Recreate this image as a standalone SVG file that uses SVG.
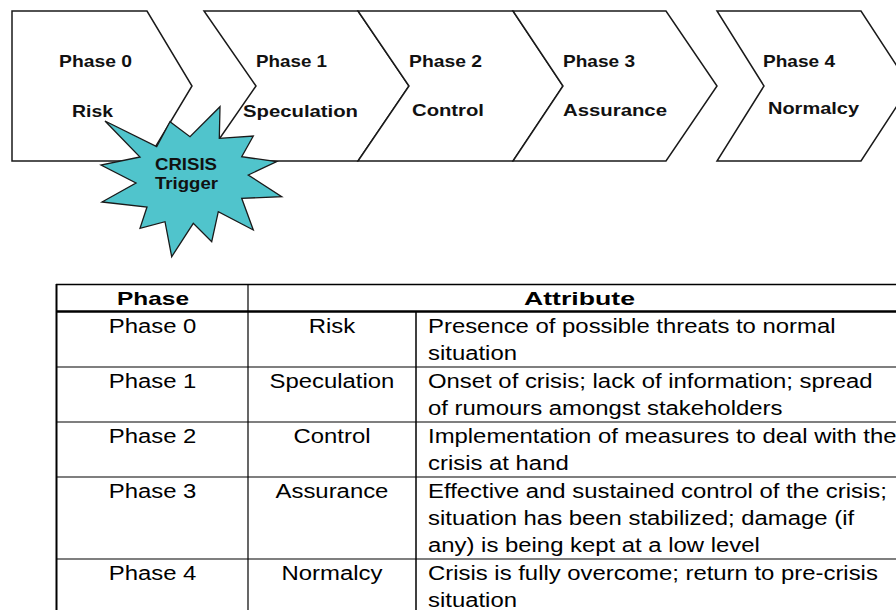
<svg xmlns="http://www.w3.org/2000/svg" width="896" height="610" viewBox="0 0 896 610">
<style>
.chev{fill:#ffffff;stroke:#1a1a1a;stroke-width:1.5;stroke-linejoin:miter}
.lbl{font-family:"Liberation Sans",Arial,sans-serif;font-weight:bold;font-size:16.5px;fill:#111}
.star{fill:#50c4cc;stroke:#1a1a1a;stroke-width:1.3;stroke-linejoin:miter}
.hdr{font-family:"Liberation Sans",Arial,sans-serif;font-weight:bold;font-size:19px;fill:#000}
.td{font-family:"Liberation Sans",Arial,sans-serif;font-size:19.5px;fill:#000}
.c{text-anchor:middle}
.grid{stroke:#000;fill:none}
</style>
<rect width="896" height="610" fill="#ffffff"/>
<g id="phase0">
<path class="chev" d="M12,11 H147 L192,86 L147,161 H12 Z"/>
<text class="lbl" x="59" y="67" textLength="73" lengthAdjust="spacingAndGlyphs">Phase 0</text>
<text class="lbl" x="72" y="117" textLength="41" lengthAdjust="spacingAndGlyphs">Risk</text>
</g>
<g id="phase1">
<path class="chev" d="M204,11 H358 L409,86 L358,161 H204 L256,86 Z"/>
<text class="lbl" x="256" y="67" textLength="71" lengthAdjust="spacingAndGlyphs">Phase 1</text>
<text class="lbl" x="243" y="117" textLength="115" lengthAdjust="spacingAndGlyphs">Speculation</text>
</g>
<g id="phase2">
<path class="chev" d="M358,11 H513 L563,86 L513,161 H358 L409,86 Z"/>
<text class="lbl" x="409" y="67" textLength="73" lengthAdjust="spacingAndGlyphs">Phase 2</text>
<text class="lbl" x="412" y="116" textLength="72" lengthAdjust="spacingAndGlyphs">Control</text>
</g>
<g id="phase3">
<path class="chev" d="M513,11 H666 L717,86 L666,161 H513 L563,86 Z"/>
<text class="lbl" x="563" y="67" textLength="72" lengthAdjust="spacingAndGlyphs">Phase 3</text>
<text class="lbl" x="563" y="116" textLength="104" lengthAdjust="spacingAndGlyphs">Assurance</text>
</g>
<g id="phase4">
<path class="chev" d="M717,11 H861 L910,86 L861,161 H717 L764,86 Z"/>
<text class="lbl" x="763" y="67" textLength="72" lengthAdjust="spacingAndGlyphs">Phase 4</text>
<text class="lbl" x="768" y="114" textLength="91" lengthAdjust="spacingAndGlyphs">Normalcy</text>
</g>
<g id="crisis-trigger">
<path class="star" d="M105,121 L156.7,146.7 L170,121.7 L190,136.7 L220,106.7 L219.3,138.3 L253.3,136 L241.7,156.7 L276.7,161.7 L248.3,175 L281.7,196.7 L241.7,198.3 L253.3,230 L218.3,211.7 L211.7,241.7 L193.3,223.3 L171.7,256.7 L165,221.7 L140,228.3 L147,207 L102,202 L136,183 L101,165 L140,157 Z"/>
<text class="lbl" x="155" y="170" textLength="62" lengthAdjust="spacingAndGlyphs">CRISIS</text>
<text class="lbl" x="155" y="189" textLength="63" lengthAdjust="spacingAndGlyphs">Trigger</text>
</g>
<g id="connectors"></g>
<g id="table">
<line class="grid" x1="56" y1="284.5" x2="912" y2="284.5" stroke-width="1.5"/>
<line class="grid" x1="56" y1="311.5" x2="912" y2="311.5" stroke-width="2.5"/>
<line class="grid" x1="56" y1="367" x2="912" y2="367" stroke-width="1.2"/>
<line class="grid" x1="56" y1="422" x2="912" y2="422" stroke-width="1.2"/>
<line class="grid" x1="56" y1="477" x2="912" y2="477" stroke-width="1.2"/>
<line class="grid" x1="56" y1="559" x2="912" y2="559" stroke-width="1.2"/>
<line class="grid" x1="56.5" y1="284" x2="56.5" y2="610" stroke-width="2"/>
<line class="grid" x1="248" y1="284" x2="248" y2="610" stroke-width="1.2"/>
<line class="grid" x1="416" y1="311" x2="416" y2="610" stroke-width="1.5"/>
<text class="hdr" x="117" y="305" textLength="72" lengthAdjust="spacingAndGlyphs">Phase</text>
<text class="hdr" x="524" y="305" textLength="111" lengthAdjust="spacingAndGlyphs">Attribute</text>
<g transform="scale(1.225,1)">
<text class="td c" x="124.5" y="333">Phase 0</text>
<text class="td c" x="271" y="333">Risk</text>
<text class="td" x="349.4" y="333">Presence of possible threats to normal</text>
<text class="td" x="349.4" y="360">situation</text>
<text class="td c" x="124.5" y="388">Phase 1</text>
<text class="td c" x="271" y="388">Speculation</text>
<text class="td" x="349.4" y="388">Onset of crisis; lack of information; spread</text>
<text class="td" x="349.4" y="415">of rumours amongst stakeholders</text>
<text class="td c" x="124.5" y="443">Phase 2</text>
<text class="td c" x="271" y="443">Control</text>
<text class="td" x="349.4" y="443">Implementation of measures to deal with the</text>
<text class="td" x="349.4" y="470">crisis at hand</text>
<text class="td c" x="124.5" y="498">Phase 3</text>
<text class="td c" x="271" y="498">Assurance</text>
<text class="td" x="349.4" y="498">Effective and sustained control of the crisis;</text>
<text class="td" x="349.4" y="525">situation has been stabilized; damage (if</text>
<text class="td" x="349.4" y="552">any) is being kept at a low level</text>
<text class="td c" x="124.5" y="580">Phase 4</text>
<text class="td c" x="271" y="580">Normalcy</text>
<text class="td" x="349.4" y="580">Crisis is fully overcome; return to pre-crisis</text>
<text class="td" x="349.4" y="607">situation</text>
</g>
</g>
</svg>
